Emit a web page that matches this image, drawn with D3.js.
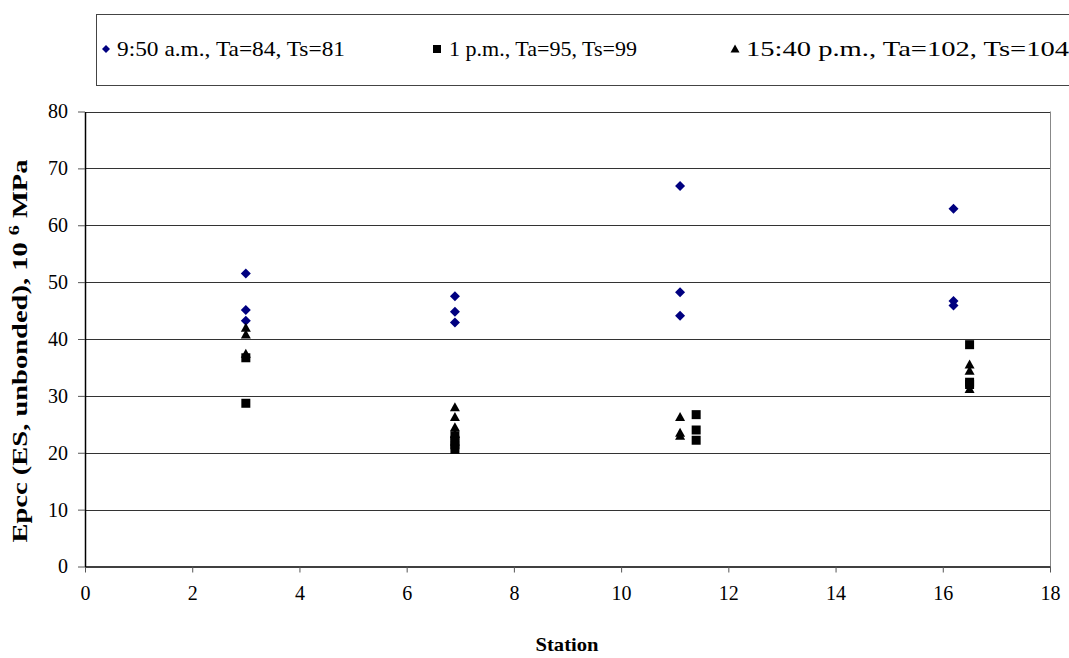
<!DOCTYPE html>
<html>
<head>
<meta charset="utf-8">
<script src="https://cdn.jsdelivr.net/npm/d3@7"></script>
<style>
html,body{margin:0;padding:0;background:#fff;}
svg{display:block;}
</style>
</head>
<body>
<svg id="chart" width="1069" height="658"></svg>
<script>
// ---- data ----
const seriesNames = ["9:50 a.m., Ta=84, Ts=81", "1 p.m., Ta=95, Ts=99", "15:40 p.m., Ta=102, Ts=104"];
const s1x = [3.0, 3.0, 3.0, 6.9, 6.9, 6.9, 11.1, 11.1, 11.1, 16.2, 16.2, 16.2];
const s1y = [51.5, 45.1, 43.2, 47.5, 44.8, 42.9, 66.9, 48.2, 44.1, 62.9, 46.7, 45.9];
const s2x = [3.0, 3.0, 6.9, 6.9, 6.9, 6.9, 11.4, 11.4, 11.4, 16.5, 16.5, 16.5];
const s2y = [36.7, 28.7, 23.0, 22.2, 21.4, 20.6, 26.7, 24.0, 22.2, 39.0, 32.4, 32.0];
const s3x = [3.0, 3.0, 3.0, 6.9, 6.9, 6.9, 6.9, 6.9, 11.1, 11.1, 11.1, 16.5, 16.5, 16.5];
const s3y = [42.0, 40.8, 37.4, 28.0, 26.3, 24.5, 23.3, 22.0, 26.3, 23.5, 23.0, 35.5, 34.4, 31.2];
const xTicks = [0, 2, 4, 6, 8, 10, 12, 14, 16, 18];
const yTicks = [0, 10, 20, 30, 40, 50, 60, 70, 80];
const xTitle = "Station";

const FONT = "Liberation Serif";
const svg = d3.select("#chart").attr("font-family", FONT);
const L = 85, R = 1050, T = 111.5, B = 566.5;
const x = d3.scaleLinear().domain([0, 18]).range([L, R]);
const y = d3.scaleLinear().domain([0, 80]).range([B, T]);

// gridlines
svg.append("g").selectAll("line").data(yTicks.filter(d => d > 0)).join("line")
  .attr("x1", L).attr("x2", R)
  .attr("y1", d => Math.round(y(d)) + 0.5).attr("y2", d => Math.round(y(d)) + 0.5)
  .attr("stroke", "#333").attr("stroke-width", 1);
// right border
svg.append("line").attr("x1", R + 0.5).attr("x2", R + 0.5).attr("y1", T).attr("y2", B)
  .attr("stroke", "#888").attr("stroke-width", 1);

// axes
const xAxis = d3.axisBottom(x).tickValues(xTicks).tickSizeInner(6).tickSizeOuter(0).tickPadding(13);
const gx = svg.append("g").attr("transform", `translate(0,${B})`).call(xAxis);
gx.attr("font-family", FONT);
gx.select(".domain").attr("stroke", "#000").attr("stroke-width", 1.5);
gx.selectAll(".tick line").attr("stroke", "#555");
gx.selectAll("text").attr("font-family", FONT).attr("font-size", 20).attr("fill", "#000");

const yAxis = d3.axisLeft(y).tickValues(yTicks).tickSizeInner(7).tickSizeOuter(0).tickPadding(10);
const gy = svg.append("g").attr("transform", `translate(${L},0)`).call(yAxis);
gy.attr("font-family", FONT);
gy.select(".domain").attr("stroke", "#000").attr("stroke-width", 1.5);
gy.selectAll(".tick line").attr("stroke", "#555");
gy.selectAll("text").attr("font-family", FONT).attr("font-size", 20).attr("fill", "#000");

// axis titles
svg.append("text").attr("font-family", FONT).attr("x", 567).attr("y", 651).attr("text-anchor", "middle")
  .attr("font-size", 19).attr("font-weight", "bold")
  .attr("textLength", 63).attr("lengthAdjust", "spacingAndGlyphs").text(xTitle);
const yt = svg.append("text").attr("font-family", FONT).attr("transform", `translate(27,351) rotate(-90)`)
  .attr("text-anchor", "middle").attr("font-size", 20).attr("font-weight", "bold")
  .attr("textLength", 383).attr("lengthAdjust", "spacingAndGlyphs");
yt.append("tspan").text("Epcc (ES, unbonded), 10 ");
yt.append("tspan").attr("dy", -8).attr("font-size", 14).text("6");
yt.append("tspan").attr("dy", 8).text(" MPa");

// markers
const diamond = (cx, cy, r) => `M${cx},${cy - r}L${cx + r},${cy}L${cx},${cy + r}L${cx - r},${cy}Z`;
const square = (cx, cy, r) => `M${cx - r},${cy - r}H${cx + r}V${cy + r}H${cx - r}Z`;
const tri = (cx, cy, r) => `M${cx},${cy - r}L${cx + r},${cy + r * 0.8}L${cx - r},${cy + r * 0.8}Z`;

svg.append("g").selectAll("path").data(s1x.map((d, i) => [d, s1y[i]])).join("path")
  .attr("d", d => diamond(x(d[0]), y(d[1]), 5)).attr("fill", "#000080");
svg.append("g").selectAll("path").data(s2x.map((d, i) => [d, s2y[i]])).join("path")
  .attr("d", d => square(x(d[0]), y(d[1]), 4.5)).attr("fill", "#000");
svg.append("g").selectAll("path").data(s3x.map((d, i) => [d, s3y[i]])).join("path")
  .attr("d", d => tri(x(d[0]), y(d[1]), 5)).attr("fill", "#000");

// legend
svg.append("rect").attr("x", 96.5).attr("y", 14.5).attr("width", 1000).attr("height", 71)
  .attr("fill", "#fff").attr("stroke", "#444").attr("stroke-width", 1);
const legY = 49;
const legItems = [
  {mx: 106, tx: 117, len: 228, shape: diamond, r: 4, fill: "#000080"},
  {mx: 437, tx: 449, len: 188, shape: square, r: 4, fill: "#000"},
  {mx: 735, tx: 746, len: 323, shape: tri, r: 4.5, fill: "#000"}
];
legItems.forEach((it, i) => {
  svg.append("path").attr("d", it.shape(it.mx, legY, it.r)).attr("fill", it.fill);
  svg.append("text").attr("font-family", FONT).attr("x", it.tx).attr("y", legY + 7).attr("font-size", 22)
    .attr("textLength", it.len).attr("lengthAdjust", "spacingAndGlyphs").text(seriesNames[i]);
});
</script>
</body>
</html>
